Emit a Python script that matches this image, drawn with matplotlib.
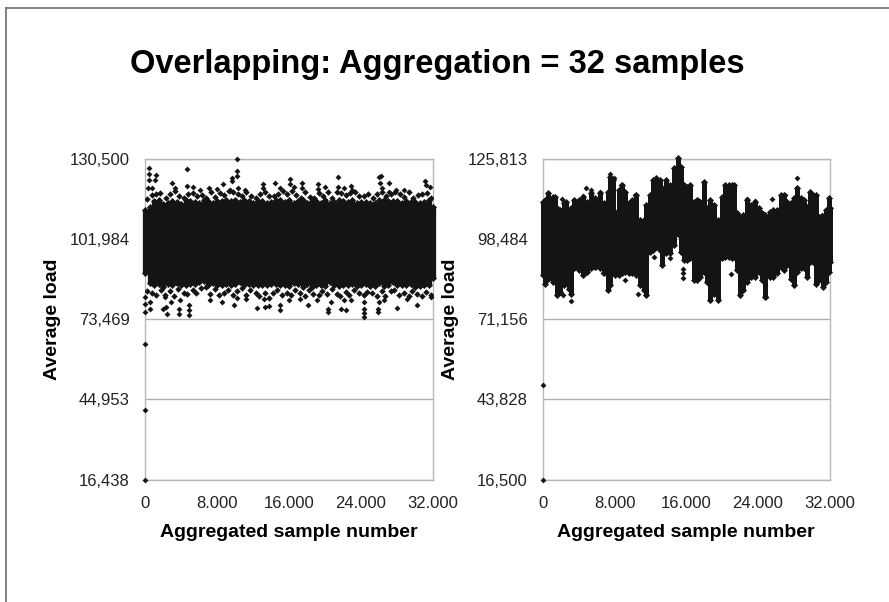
import matplotlib
matplotlib.use("Agg")
import matplotlib.pyplot as plt
from matplotlib.lines import Line2D

plt.rcParams['font.family'] = ['Liberation Sans', 'DejaVu Sans']

title = "Overlapping: Aggregation = 32 samples"
x_label = "Aggregated sample number"
y_label = "Average load"
x_ticks = [0, 8000, 16000, 24000, 32000]
x_tick_labels = ["0", "8.000", "16.000", "24.000", "32.000"]
left_y_ticks = [16438, 44953, 73469, 101984, 130500]
right_y_ticks = [16500, 43828, 71156, 98484, 125813]

# dense band of the left panel, upper and lower edge by sample number
left_band_x = [0, 500, 1000, 1500, 2000, 2500, 3000, 3500, 4000, 4500, 5000, 5500, 6000,
               6500, 7000, 7500, 8000, 8500, 9000, 9500, 10000, 10500, 11000, 11500, 12000,
               12500, 13000, 13500, 14000, 14500, 15000, 15500, 16000, 16500, 17000, 17500,
               18000, 18500, 19000, 19500, 20000, 20500, 21000, 21500, 22000, 22500, 23000,
               23500, 24000, 24500, 25000, 25500, 26000, 26500, 27000, 27500, 28000, 28500,
               29000, 29500, 30000, 30500, 31000, 31500, 32000]
left_band_high = [112.5, 113.5, 115.5, 115.8, 114.6, 115.0, 115.6, 115.2, 114.5, 115.8, 115.6,
                  115.2, 115.0, 115.8, 115.4, 114.9, 115.5, 115.6, 115.8, 115.6, 115.9, 115.3,
                  115.9, 115.4, 115.0, 115.6, 115.5, 115.0, 115.2, 115.8, 116.0, 115.2, 116.0,
                  115.0, 115.5, 116.0, 114.8, 115.5, 115.7, 114.8, 115.9, 115.0, 115.3, 116.0,
                  115.7, 115.2, 116.0, 115.0, 115.2, 115.2, 115.0, 115.0, 116.0, 115.8, 115.5,
                  115.4, 115.4, 115.0, 115.6, 115.2, 115.2, 115.0, 115.3, 115.8, 113.5]
left_band_low = [90.0, 86.5, 85.5, 86.2, 85.0, 86.2, 85.8, 86.4, 85.6, 85.5, 86.2, 86.2, 86.8,
                 87.2, 85.8, 86.5, 85.5, 85.8, 86.0, 85.5, 86.2, 86.8, 85.8, 86.2, 85.6, 85.5,
                 85.8, 85.8, 86.0, 86.2, 85.6, 85.5, 85.2, 86.4, 86.2, 85.0, 86.0, 85.0, 85.5,
                 85.8, 85.2, 86.6, 85.5, 85.2, 85.8, 85.5, 86.0, 85.2, 85.6, 86.0, 85.2, 85.2,
                 86.4, 85.4, 85.8, 86.6, 85.8, 85.6, 85.5, 86.0, 85.0, 85.2, 85.8, 85.6, 88.0]

# fringe of points along the top and bottom of the left band
left_fringe_top_x = [250, 750, 1250, 1700, 2300, 2750, 3300, 3800, 4300, 4800, 5300, 5800, 6300,
                     6800, 7300, 7800, 8300, 8800, 9300, 9800, 10300, 10800, 11200, 11800, 12300,
                     12800, 13300, 13800, 14300, 14800, 15300, 15800, 16300, 16800, 17300, 17800,
                     18300, 18800, 19300, 19800, 20300, 20800, 21300, 21800, 22300, 22800, 23300,
                     23800, 24300, 24800, 25300, 25800, 26300, 26800, 27300, 27800, 28300, 28800,
                     29300, 29800, 30300, 30800, 31300, 31800]
left_fringe_top_y = [116.2, 117.8, 118.0, 118.4, 116.8, 118.2, 119.0, 117.4, 116.6, 118.2, 118.4,
                     117.2, 117.6, 116.8, 118.6, 117.0, 118.4, 117.6, 119.0, 118.6, 118.2, 117.4,
                     118.6, 117.4, 116.8, 118.0, 118.8, 117.4, 117.2, 118.2, 119.0, 118.0, 119.2,
                     117.8, 116.8, 118.8, 117.0, 116.8, 118.4, 117.4, 118.8, 116.8, 118.6, 118.4,
                     117.8, 118.4, 118.6, 117.4, 117.2, 118.0, 116.8, 118.0, 118.8, 117.2, 118.2,
                     118.6, 118.2, 117.0, 118.8, 116.8, 117.8, 118.0, 118.4, 116.6]
left_fringe_low_x = [250, 800, 1200, 1750, 2250, 2800, 3200, 3700, 4300, 4700, 5300, 5700, 6200,
                     6800, 7200, 7800, 8200, 8800, 9200, 9800, 10200, 10800, 11200, 11700, 12300,
                     12700, 13300, 13800, 14200, 14700, 15200, 15800, 16200, 16700, 17200, 17800,
                     18200, 18700, 19300, 19700, 20200, 20800, 21300, 21700, 22300, 22700, 23200,
                     23800, 24300, 24700, 25200, 25800, 26300, 26700, 27300, 27700, 28200, 28800,
                     29300, 29700, 30200, 30800, 31200, 31800]
left_fringe_low_y = [83.6, 83.0, 82.2, 84.0, 82.0, 83.4, 81.6, 84.2, 83.0, 82.6, 84.0, 83.0, 84.6,
                     85.0, 82.6, 84.2, 82.0, 83.0, 84.0, 82.0, 83.4, 84.6, 82.0, 84.0, 82.8, 81.6,
                     83.0, 81.0, 82.8, 84.0, 82.0, 83.0, 82.0, 84.0, 83.0, 81.6, 84.0, 82.4, 82.0,
                     83.6, 82.4, 84.4, 82.4, 81.8, 83.2, 82.0, 83.8, 83.0, 82.0, 83.2, 82.8, 81.6,
                     83.6, 81.8, 83.4, 84.0, 82.0, 83.0, 81.8, 83.6, 82.4, 81.6, 83.2, 82.0]

# points standing clear of the left band
left_points_x = [409, 409, 1265, 1079, 409, 335, 818, 3013, 3311, 4687, 4687, 5357, 6100, 7105,
                 8035, 8705, 9635, 10193, 10193, 10193, 9635, 10380, 9450, 11120, 13100, 13100,
                 14470, 15030, 16145, 16145, 16520, 17480, 17480, 19230, 19230, 20050, 21430,
                 21430, 22100, 22915, 23030, 26000, 26260, 26115, 26375, 27120, 27120, 27860,
                 28790, 31140, 31210, 31690,
                 0, 0, 0, 595, 595, 2010, 2380, 2455, 3757, 3757, 4873, 4873, 4873, 2195, 2940,
                 3870, 7217, 8520, 9895, 10190, 11235, 12425, 13355, 13727, 13170, 15030, 15030,
                 15960, 18115, 19120, 20350, 20350, 20720, 21725, 22280, 22100, 24330, 24330,
                 24330, 24330, 25890, 25890, 28050, 30170, 26000, 29165, 31770, 17260, 26560,
                 22840, 0, 0, 0]
left_points_y = [127170, 125030, 124800, 123000, 123000, 120300, 120300, 121800, 120300, 126900,
                 120760, 120500, 119450, 120050, 119800, 121500, 123600, 130500, 126200, 124400,
                 122660, 120050, 119450, 119450, 121500, 120050, 122070, 120050, 123370, 121500,
                 120640, 121800, 120050, 121500, 119700, 120640, 123970, 120400, 120050, 121000,
                 119450, 124200, 124440, 121800, 120050, 121800, 118860, 119450, 119450, 122660,
                 121230, 120640,
                 76090, 79060, 81430, 77280, 79650, 77280, 77870, 75500, 77280, 75500, 78470,
                 76680, 74900, 81430, 79650, 80250, 80250, 79650, 78470, 81080, 80840, 77630,
                 77870, 78230, 80600, 78470, 76680, 80250, 78470, 80250, 77280, 76090, 79650,
                 77280, 76680, 80250, 79650, 77280, 75730, 74300, 77280, 76090, 77630, 78700,
                 79650, 80840, 81430, 80840, 80250, 80250, 64660, 41180, 16438]

# dense band of the right panel
right_band_x = [0, 260, 520, 820, 1120, 1380, 1560, 1930, 2310, 2600, 2860, 3160, 3500, 3980,
                4460, 4910, 5390, 5840, 6320, 6770, 7220, 7510, 7810, 8070, 8440, 8820, 9190,
                9560, 9930, 10420, 10860, 11230, 11530, 11900, 12280, 12650, 13020, 13280,
                13760, 14140, 14580, 15030, 15400, 15770, 16070, 16370, 16810, 17190, 17560,
                17930, 18300, 18670, 19050, 19340, 19600, 19980, 20350, 20720, 21090, 21350,
                21650, 22020, 22390, 22840, 23210, 23700, 24070, 24440, 24850, 25300, 25740,
                26110, 26560, 26930, 27300, 27680, 28050, 28350, 28790, 29160, 29460, 29830,
                30210, 30500, 30880, 31320, 31620, 31920, 32000]
right_band_high = [111.2, 111.8, 114.1, 107.8, 112.9, 112.9, 109.0, 108.4, 110.7, 111.2, 107.8,
                   109.0, 111.8, 111.8, 112.9, 111.2, 114.1, 112.4, 114.1, 110.7, 114.7, 119.8,
                   118.6, 107.8, 115.2, 116.9, 114.7, 110.7, 111.8, 113.5, 105.0, 105.0, 110.1,
                   113.5, 118.6, 119.2, 118.6, 115.8, 118.6, 116.9, 122.6, 126.0, 123.2, 116.9,
                   116.4, 116.9, 111.2, 111.8, 111.2, 118.1, 109.0, 111.8, 110.1, 103.8, 105.0,
                   112.9, 116.9, 116.9, 116.9, 116.9, 107.3, 106.1, 106.7, 111.8, 110.1, 111.2,
                   109.0, 107.3, 106.7, 107.8, 108.4, 108.4, 113.5, 113.5, 111.2, 110.7, 112.4,
                   115.8, 112.4, 111.8, 109.5, 114.7, 113.5, 113.5, 106.1, 106.1, 108.4, 112.4,
                   109.0]
right_band_low = [86.2, 83.3, 85.0, 85.6, 83.9, 85.6, 79.4, 80.5, 82.8, 83.9, 81.6, 79.9, 88.5,
                  87.9, 86.2, 87.3, 88.5, 89.0, 88.5, 86.8, 81.1, 82.8, 91.3, 86.2, 86.2, 86.8,
                  87.3, 86.8, 86.8, 86.2, 82.8, 81.1, 79.4, 94.2, 94.7, 95.9, 94.7, 89.6, 93.6,
                  93.6, 96.4, 100.4, 94.2, 91.3, 91.3, 91.9, 84.5, 84.5, 85.6, 87.3, 83.9, 77.6,
                  79.9, 80.5, 77.6, 91.9, 92.4, 92.4, 91.9, 92.4, 87.9, 79.4, 81.1, 83.9, 85.6,
                  85.6, 87.3, 84.5, 78.8, 85.6, 85.6, 86.8, 89.0, 87.9, 89.6, 85.0, 82.8, 87.3,
                  88.5, 88.5, 85.6, 90.7, 90.7, 83.3, 84.5, 82.2, 83.9, 87.3, 90.7]

# points standing clear of the right band
right_points_x = [4760, 5390, 6320, 7510, 7880, 2120, 4460, 8700, 10300, 28350, 28350, 31140,
                  27040, 25630, 22840, 23700, 17260,
                  2190, 3160, 10560, 11530, 15620, 15620, 15620, 18670, 19600, 20980, 24890,
                  28050, 9120, 12420, 14140, 5950, 6700, 4460, 0, 0]
right_points_y = [116.0, 115.2, 114.7, 120.6, 119.5, 112.2, 113.3, 116.9, 113.5, 119.2, 115.8,
                  106.7, 113.5, 112.2, 112.2, 111.6, 111.8,
                  79.6, 77.3, 79.9, 79.6, 88.2, 86.8, 85.3, 77.6, 77.6, 86.5, 78.8, 82.8, 84.7,
                  92.4, 91.9, 89.0, 86.8, 86.2, 48.7, 16.5]


def thousands(values):
    return [v * 1000 for v in values]


def draw_panel(ax, y_ticks, band_x, band_high, band_low, pts_x, pts_y, band_lw):
    ax.set_xlim(0, 32000)
    ax.set_ylim(y_ticks[0], y_ticks[-1])
    ax.set_xticks(x_ticks, x_tick_labels)
    ax.set_yticks(y_ticks, [f"{v:,}" for v in y_ticks])
    ax.tick_params(axis="x", length=0, labelsize=12, colors="#222222", pad=12)
    ax.tick_params(axis="y", length=0, labelsize=12, colors="#222222", pad=11)
    ax.grid(axis="y", color="#b0b0b0", lw=1)
    ax.set_axisbelow(True)
    for s in ax.spines.values():
        s.set_color("#b8b8b8")
        s.set_linewidth(1)
    ax.vlines(band_x, thousands(band_low), thousands(band_high),
              color="#141414", lw=band_lw, clip_on=False, zorder=3)
    ax.scatter(band_x + band_x, thousands(band_high) + thousands(band_low), marker="D", s=13,
               color="#141414", lw=0, clip_on=False, zorder=4)
    ax.scatter(pts_x, pts_y, marker="D", s=9, color="#141414", lw=0, clip_on=False, zorder=4)
    ax.set_xlabel(x_label, fontsize=14, fontweight="bold", labelpad=9, color="black")
    ax.set_ylabel(y_label, fontsize=14, fontweight="bold", labelpad=6, color="black")


fig = plt.figure(figsize=(8.89, 6.02), dpi=100)
W, H = 889, 602
ax1 = fig.add_axes([145 / W, 1 - 479.6 / H, 288 / W, 320.6 / H])
ax2 = fig.add_axes([543 / W, 1 - 479.6 / H, 286.5 / W, 320.6 / H])

draw_panel(ax1, left_y_ticks, left_band_x, left_band_high, left_band_low,
           left_points_x, left_points_y, 3.8)
ax1.scatter(left_fringe_top_x + left_fringe_low_x,
            thousands(left_fringe_top_y) + thousands(left_fringe_low_y),
            marker="D", s=11, color="#141414", lw=0, zorder=4)
draw_panel(ax2, right_y_ticks, right_band_x, right_band_high, right_band_low,
           right_points_x, thousands(right_points_y), 3.6)

fig.text(437 / W, 1 - 64 / H, title, ha="center", va="center", fontsize=23.5,
         fontweight="bold", color="black")

# slide border, top and left only
fig.add_artist(Line2D([5.5 / W, 5.5 / W], [0, 1 - 7.5 / H], color="#777777", lw=1.3))
fig.add_artist(Line2D([5.5 / W, 1], [1 - 7.5 / H, 1 - 7.5 / H], color="#777777", lw=1.3))

fig.savefig("out.png", dpi=100)
